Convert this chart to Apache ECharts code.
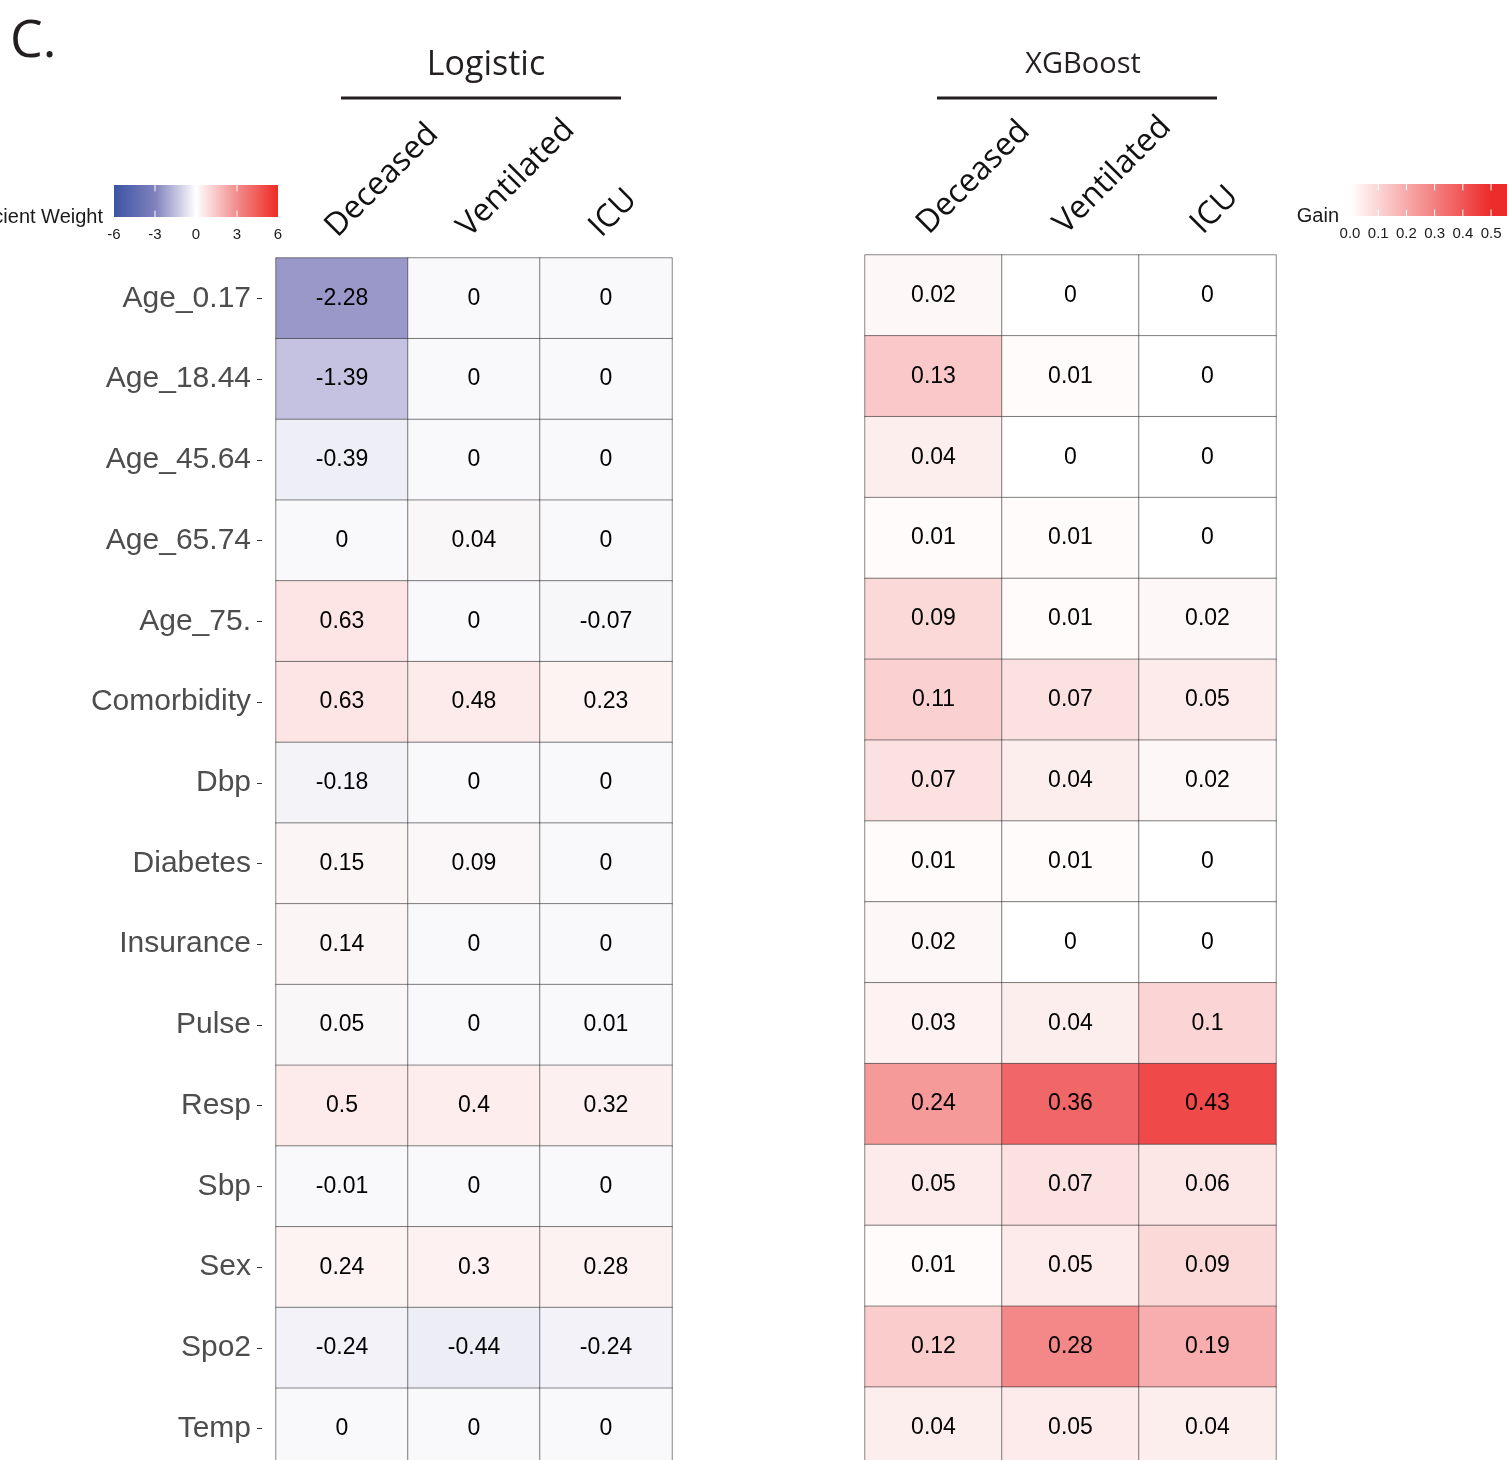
<!DOCTYPE html>
<html>
<head>
<meta charset="utf-8">
<script src="https://cdn.jsdelivr.net/npm/echarts@6/dist/echarts.min.js"></script>
<style>
  html, body { margin: 0; padding: 0; background: #ffffff; }
  #chart { width: 1507px; height: 1460px; }
</style>
</head>
<body>
<div id="chart"></div>
<script>
// Features (rows) and outcomes (columns)
const features = ['Age_0.17', 'Age_18.44', 'Age_45.64', 'Age_65.74', 'Age_75.', 'Comorbidity', 'Dbp',
  'Diabetes', 'Insurance', 'Pulse', 'Resp', 'Sbp', 'Sex', 'Spo2', 'Temp'];
const outcomes = ['Deceased', 'Ventilated', 'ICU'];

// Logistic regression coefficient weights, one array per outcome
const logisticDeceased   = [-2.28, -1.39, -0.39, 0, 0.63, 0.63, -0.18, 0.15, 0.14, 0.05, 0.5, -0.01, 0.24, -0.24, 0];
const logisticVentilated = [0, 0, 0, 0.04, 0, 0.48, 0, 0.09, 0, 0, 0.4, 0, 0.3, -0.44, 0];
const logisticICU        = [0, 0, 0, 0, -0.07, 0.23, 0, 0, 0, 0.01, 0.32, 0, 0.28, -0.24, 0];

// XGBoost feature gain, one array per outcome
const xgbDeceased   = [0.02, 0.13, 0.04, 0.01, 0.09, 0.11, 0.07, 0.01, 0.02, 0.03, 0.24, 0.05, 0.01, 0.12, 0.04];
const xgbVentilated = [0, 0.01, 0, 0.01, 0.01, 0.07, 0.04, 0.01, 0, 0.04, 0.36, 0.07, 0.05, 0.28, 0.05];
const xgbICU        = [0, 0, 0, 0, 0.02, 0.05, 0.02, 0, 0, 0.1, 0.43, 0.06, 0.09, 0.19, 0.04];

// Colour-bar breaks
const coefTicks = [-6, -3, 0, 3, 6];
const gainTicks = [0, 0.1, 0.2, 0.3, 0.4, 0.5];

// Diverging palette anchors for coefficient weights
const coefStopValues = [-6, -3, -2.28, -1.39, -0.39, 0, 0.24, 0.5, 0.63, 3, 6];
const coefStopColors = ['#3b4fa0', '#7d7cbb', '#9a98c9', '#c5c1e0', '#eeeff6', '#f9f8fb',
  '#fdf3f3', '#fdeaea', '#fde5e5', '#f49494', '#ee2a24'];

function hexToRgb(h) {
  return [parseInt(h.slice(1, 3), 16), parseInt(h.slice(3, 5), 16), parseInt(h.slice(5, 7), 16)];
}
function rgbToHex(c) {
  return '#' + c.map(v => Math.round(v).toString(16).padStart(2, '0')).join('');
}
function paletteAt(v, values, colors) {
  if (v <= values[0]) return colors[0];
  for (let i = 1; i < values.length; i++) {
    if (v <= values[i]) {
      const t = (v - values[i - 1]) / (values[i] - values[i - 1]);
      const a = hexToRgb(colors[i - 1]), b = hexToRgb(colors[i]);
      return rgbToHex(a.map((x, k) => x + (b[k] - x) * t));
    }
  }
  return colors[colors.length - 1];
}
// Evenly spaced ramp handed to the visualMap
const coefRamp = [];
for (let k = 0; k <= 240; k++) {
  coefRamp.push(paletteAt(-6 + k * 0.05, coefStopValues, coefStopColors));
}

function toCells(columns) {
  const out = [];
  columns.forEach((col, j) => col.forEach((v, i) => out.push([j, i, v])));
  return out;
}
const logisticCells = toCells([logisticDeceased, logisticVentilated, logisticICU]);
const xgbCells = toCells([xgbDeceased, xgbVentilated, xgbICU]);

const serifless = 'Liberation Sans, Arial, sans-serif';
const headFont = 'Open Sans, Noto Sans, sans-serif';

function colorBar(stops) {
  return function (params, api) {
    const p0 = api.coord([api.value(0), 1]);
    const p1 = api.coord([api.value(1), 0]);
    return {
      type: 'rect',
      shape: { x: p0[0], y: p0[1], width: p1[0] - p0[0], height: p1[1] - p0[1] },
      style: {
        fill: { type: 'linear', x: 0, y: 0, x2: 1, y2: 0, colorStops: stops }
      }
    };
  };
}
function barTicks(params, api) {
  const top = api.coord([api.value(0), 1]);
  const bot = api.coord([api.value(0), 0]);
  const len = (bot[1] - top[1]) / 5;
  const style = { stroke: '#ffffff', lineWidth: 1 };
  return {
    type: 'group',
    children: [
      { type: 'line', shape: { x1: top[0], y1: top[1], x2: top[0], y2: top[1] + len }, style },
      { type: 'line', shape: { x1: bot[0], y1: bot[1] - len, x2: bot[0], y2: bot[1] }, style }
    ]
  };
}

const heatLabel = {
  show: true,
  formatter: p => String(p.value[2]),
  fontSize: 23,
  fontFamily: serifless,
  color: '#000000'
};
const cellStyle = { borderColor: 'rgba(40,40,40,0.55)', borderWidth: 1 };

const topAxis = (gridIndex) => ({
  type: 'category',
  gridIndex,
  data: outcomes,
  position: 'top',
  axisLine: { show: false },
  axisTick: { show: false },
  splitLine: { show: false },
  axisLabel: {
    rotate: -45,
    margin: 15,
    verticalAlign: 'bottom',
    fontSize: 32,
    fontFamily: headFont,
    color: '#111111',
    interval: 0
  }
});

const legendAxisLabel = {
  fontSize: 15,
  fontFamily: serifless,
  color: '#1a1a1a',
  margin: 10
};

const option = {
  backgroundColor: '#ffffff',
  animation: false,
  grid: [
    { left: 276, top: 258, width: 396, bottom: -9, outerBoundsMode: 'none' },
    { left: 865, top: 255, width: 411, bottom: -8, outerBoundsMode: 'none' },
    { left: 114, top: 185, width: 164, height: 32, outerBoundsMode: 'none' },
    { left: 1350, top: 184, width: 158, height: 32, outerBoundsMode: 'none' }
  ],
  xAxis: [
    topAxis(0),
    topAxis(1),
    {
      type: 'value', gridIndex: 2, min: -6, max: 6,
      name: 'Coefficient Weight', nameLocation: 'start', nameGap: 11,
      nameTextStyle: { fontSize: 20, fontFamily: serifless, color: '#1a1a1a', padding: [0, 0, 4, 0] },
      axisLine: { show: false }, axisTick: { show: false }, splitLine: { show: false },
      axisLabel: Object.assign({ customValues: coefTicks, formatter: v => String(v) }, legendAxisLabel)
    },
    {
      type: 'value', gridIndex: 3, min: 0, max: 0.56,
      name: 'Gain', nameLocation: 'start', nameGap: 11,
      nameTextStyle: { fontSize: 20, fontFamily: serifless, color: '#1a1a1a', padding: [0, 0, 4, 0] },
      axisLine: { show: false }, axisTick: { show: false }, splitLine: { show: false },
      axisLabel: Object.assign({ customValues: gainTicks, formatter: v => v.toFixed(1) }, legendAxisLabel)
    }
  ],
  yAxis: [
    {
      type: 'category', gridIndex: 0, data: features, inverse: true, offset: 14,
      axisLine: { show: false },
      axisTick: { show: true, alignWithLabel: true, length: 5, lineStyle: { color: '#333333', width: 1 } },
      splitLine: { show: false },
      axisLabel: { fontSize: 30, fontFamily: serifless, color: '#4d4d4d', margin: 11, interval: 0 }
    },
    {
      type: 'category', gridIndex: 1, data: features, inverse: true,
      axisLine: { show: false }, axisTick: { show: false }, axisLabel: { show: false }, splitLine: { show: false }
    },
    { type: 'value', gridIndex: 2, min: 0, max: 1, show: false },
    { type: 'value', gridIndex: 3, min: 0, max: 1, show: false }
  ],
  visualMap: [
    {
      type: 'continuous', show: false, seriesIndex: 0, dimension: 2,
      min: -6, max: 6, inRange: { color: coefRamp }
    },
    {
      type: 'continuous', show: false, seriesIndex: 1, dimension: 2,
      min: 0, max: 0.5, inRange: { color: ['#ffffff', '#ec2b2b'] }
    }
  ],
  graphic: [
    { type: 'text', left: 10, top: 16, style: { text: 'C.', fontSize: 52, fontFamily: headFont, fill: '#231f20' } },
    { type: 'text', x: 486, y: 65, style: { text: 'Logistic', fontSize: 34, fontFamily: headFont, fill: '#231f20', align: 'center', verticalAlign: 'middle' } },
    { type: 'line', shape: { x1: 341, y1: 98, x2: 621, y2: 98 }, style: { stroke: '#231f20', lineWidth: 3 } },
    { type: 'text', x: 1083, y: 65, style: { text: 'XGBoost', fontSize: 29, fontFamily: headFont, fill: '#231f20', align: 'center', verticalAlign: 'middle' } },
    { type: 'line', shape: { x1: 937, y1: 98, x2: 1217, y2: 98 }, style: { stroke: '#231f20', lineWidth: 3 } }
  ],
  series: [
    {
      type: 'heatmap', xAxisIndex: 0, yAxisIndex: 0, data: logisticCells,
      label: heatLabel, itemStyle: cellStyle, emphasis: { disabled: true }
    },
    {
      type: 'heatmap', xAxisIndex: 1, yAxisIndex: 1, data: xgbCells,
      label: heatLabel, itemStyle: cellStyle, emphasis: { disabled: true }
    },
    {
      type: 'custom', xAxisIndex: 2, yAxisIndex: 2, silent: true,
      data: [[coefTicks[0], coefTicks[coefTicks.length - 1]]],
      renderItem: colorBar([
        { offset: 0, color: '#3b54a4' },
        { offset: 0.25, color: '#8081bd' },
        { offset: 0.5, color: '#ffffff' },
        { offset: 0.75, color: '#f28c8c' },
        { offset: 1, color: '#ee2a24' }
      ])
    },
    {
      type: 'custom', xAxisIndex: 2, yAxisIndex: 2, silent: true,
      data: coefTicks.slice(1, -1).map(v => [v]),
      renderItem: barTicks
    },
    {
      type: 'custom', xAxisIndex: 3, yAxisIndex: 3, silent: true,
      data: [[0, 0.56]],
      renderItem: colorBar([
        { offset: 0, color: '#ffffff' },
        { offset: 0.5 / 0.56, color: '#ec2b2b' },
        { offset: 1, color: '#ec2b2b' }
      ])
    },
    {
      type: 'custom', xAxisIndex: 3, yAxisIndex: 3, silent: true,
      data: gainTicks.slice(1).map(v => [v]),
      renderItem: barTicks
    }
  ]
};

const chart = echarts.init(document.getElementById('chart'), null, { renderer: 'canvas' });
chart.setOption(option);
</script>
</body>
</html>
